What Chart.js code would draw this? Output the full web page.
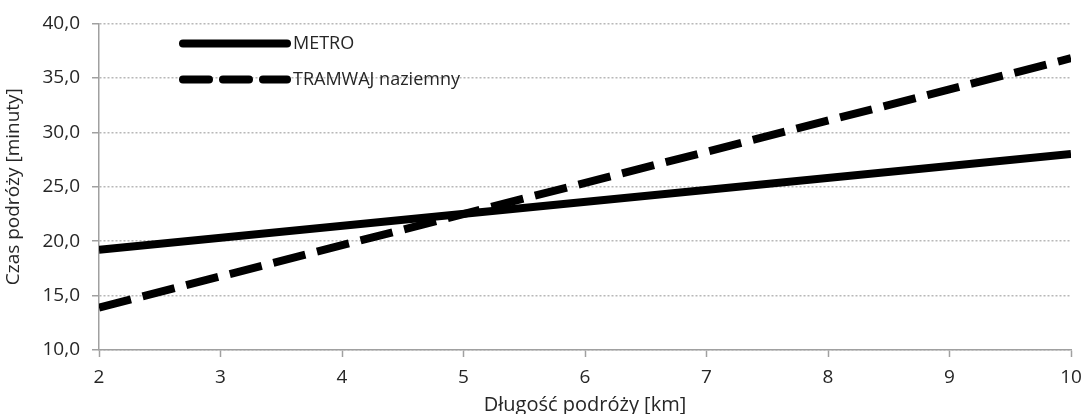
<!DOCTYPE html>
<html>
<head>
<meta charset="utf-8">
<script src="https://cdn.jsdelivr.net/npm/chart.js@4/dist/chart.umd.min.js"></script>
<style>
  html, body { margin: 0; padding: 0; background: #fff; }
  #wrap { width: 1087px; height: 414px; }
</style>
</head>
<body>
<div id="wrap"><canvas id="wykres" width="1087" height="414"></canvas></div>
<script>
// dane
const dlugosc = [2, 10];
const czasMetro = [19.2, 28.0];
const czasTramwaj = [13.9, 36.8];
const nazwySerii = ["METRO", "TRAMWAJ naziemny"];

const tekst = "#262626";
const czcionka = "'Open Sans', 'DejaVu Sans', sans-serif";

// legenda rysowana recznie w obszarze wykresu
const legendaLinie = {
  id: "legendaLinie",
  afterDraw(chart) {
    const ctx = chart.ctx;
    const a = chart.chartArea;
    chart.data.datasets.forEach((ds, i) => {
      const y = a.top + 20 + i * 36;
      const x0 = a.left + 84, x1 = a.left + 188;
      ctx.save();
      ctx.strokeStyle = ds.borderColor;
      ctx.lineWidth = ds.borderWidth;
      ctx.lineCap = "round";
      ctx.setLineDash(ds.borderDash.length ? [26, 14] : []);
      ctx.beginPath();
      ctx.moveTo(x0, y);
      ctx.lineTo(x1, y);
      ctx.stroke();
      ctx.restore();
      ctx.save();
      ctx.fillStyle = "#262626";
      ctx.font = "18px " + czcionka;
      ctx.textBaseline = "middle";
      ctx.fillText(ds.label, x1 + 6, y);
      ctx.restore();
    });
  }
};

const ctx = document.getElementById("wykres").getContext("2d");
new Chart(ctx, {
  type: "line",
  data: {
    datasets: [
      {
        label: nazwySerii[0],
        data: dlugosc.map((x, i) => ({ x: x, y: czasMetro[i] })),
        borderColor: "#000",
        borderWidth: 8,
        borderDash: [],
        borderCapStyle: "butt",
        pointRadius: 0,
        fill: false
      },
      {
        label: nazwySerii[1],
        data: dlugosc.map((x, i) => ({ x: x, y: czasTramwaj[i] })),
        borderColor: "#000",
        borderWidth: 8,
        borderDash: [33, 12],
        borderCapStyle: "butt",
        pointRadius: 0,
        fill: false
      }
    ]
  },
  options: {
    responsive: false,
    animation: false,
    layout: { padding: { top: 21, right: 16, left: 0, bottom: 0 } },
    plugins: {
      legend: { display: false },
      tooltip: { enabled: false }
    },
    scales: {
      x: {
        type: "linear",
        min: 2,
        max: 10,
        afterFit(scale) {
          scale.height = 64;
          scale.paddingLeft = 0;
          scale.paddingRight = 0;
        },
        ticks: {
          stepSize: 1,
          color: tekst,
          font: { family: czcionka, size: 19 },
          padding: 9
        },
        grid: {
          drawOnChartArea: false,
          drawTicks: true,
          tickLength: 7,
          tickColor: "#a0a0a0",
          tickWidth: 1.5
        },
        border: { color: "#a0a0a0", width: 1.5 },
        title: {
          display: true,
          text: "Długość podróży [km]",
          color: tekst,
          font: { family: czcionka, size: 20 },
          padding: { top: 0, bottom: -3 }
        }
      },
      y: {
        min: 10,
        max: 40,
        afterFit(scale) { scale.width = 99; },
        ticks: {
          stepSize: 5,
          color: tekst,
          font: { family: czcionka, size: 19 },
          padding: 12,
          callback: (v) => v.toFixed(1).replace(".", ",")
        },
        grid: {
          color: "#b8b8b8",
          lineWidth: 1.5,
          tickLength: 7,
          tickColor: "#a0a0a0",
          tickWidth: 1.5
        },
        border: { color: "#a0a0a0", width: 1.5, dash: [2, 2] },
        title: {
          display: true,
          text: "Czas podróży [minuty]",
          color: tekst,
          font: { family: czcionka, size: 19 },
          padding: { top: 2, bottom: 0 }
        }
      }
    }
  },
  plugins: [legendaLinie]
});
</script>
</body>
</html>
